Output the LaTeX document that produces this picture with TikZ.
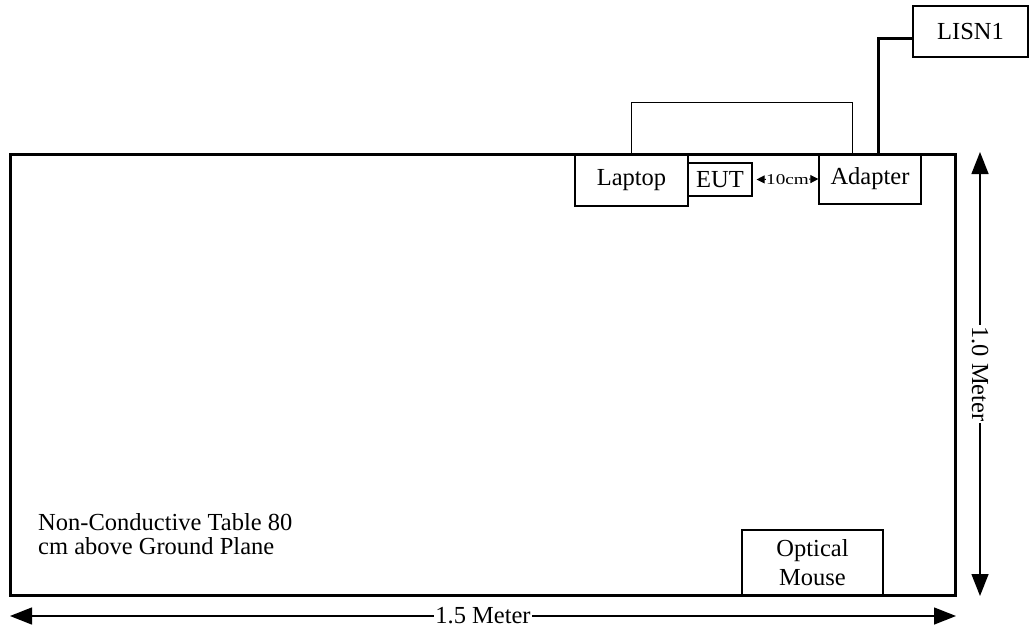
\documentclass[tikz,border=0pt]{standalone}
\usepackage{fontspec}
\setmainfont{Liberation Serif}
\usetikzlibrary{arrows.meta,calc}
\begin{document}
\begin{tikzpicture}[x=1pt,y=-1pt,
  box/.style={draw, line width=1.2pt, rectangle, inner sep=0pt, font=\fontsize{24.5}{29}\selectfont},
  dim/.style={line width=1.4pt, {Triangle[length=22pt,width=17pt]}-{Triangle[length=22pt,width=17pt]}},
  lbl/.style={fill=white, inner sep=1pt, font=\fontsize{24.5}{26}\selectfont},
  small/.style={line width=1pt, {Triangle[length=8pt,width=8pt]}-{Triangle[length=8pt,width=8pt]}}]
\useasboundingbox (0,0) rectangle (1030,634);
% equipment
\node[box, minimum width=113pt, minimum height=51pt] (laptop) at (631.5,180.5) {Laptop};
\node[box, minimum width=64pt, minimum height=33pt] (eut) at (720,179.5) {EUT};
\node[box, minimum width=102pt, minimum height=50pt] (adapter) at (870,179) {Adapter};
\node[box, minimum width=115pt, minimum height=51pt] (lisn) at (970.5,31.5) {LISN1};
\node[box, minimum width=141pt, minimum height=65pt, align=center] (mouse) at (812.5,562.5) {Optical\\Mouse};
% table
\node[draw, line width=3pt, rectangle, minimum width=945pt, minimum height=441pt] (table) at (482.5,374.5) {};
\node[anchor=north west, inner sep=0pt, align=left, font=\fontsize{24.5}{23.5}\selectfont] (tabletext) at (38,513.5) {Non-Conductive Table 80\\cm above Ground Plane};
% loop cable laptop - adapter
\coordinate (looptop) at (631.5,102);
\coordinate (loopend) at ($(adapter.north west)!0.333!(adapter.north east)$);
\draw[line width=0.8pt] (laptop.north) -- (looptop) -| (loopend);
% power cable adapter - LISN
\coordinate (cablestart) at ($(adapter.north west)!0.58!(adapter.north east)$);
\coordinate (cableend) at ($(lisn.west)+(0,7)$);
\draw[line width=3pt] (cablestart) |- (cableend);
% 10 cm
\draw[small] ($(eut.east)+(4,0)$) -- (adapter.west)
  node[midway, fill=white, inner sep=0pt, font=\fontsize{15}{15}\selectfont] (tencm) {\scalebox{1.28}[1]{10cm}};
% dimensions
\coordinate (hL) at (10,616);
\coordinate (hR) at (956,616);
\draw[dim] (hL) -- (hR) node[midway, lbl] (hlabel) {1.5 Meter};
\coordinate (vT) at (980,152);
\coordinate (vB) at (980,596);
\draw[dim] (vT) -- (vB) node[midway, lbl, rotate=-90] (vlabel) {1.0 Meter};
\end{tikzpicture}
\end{document}
